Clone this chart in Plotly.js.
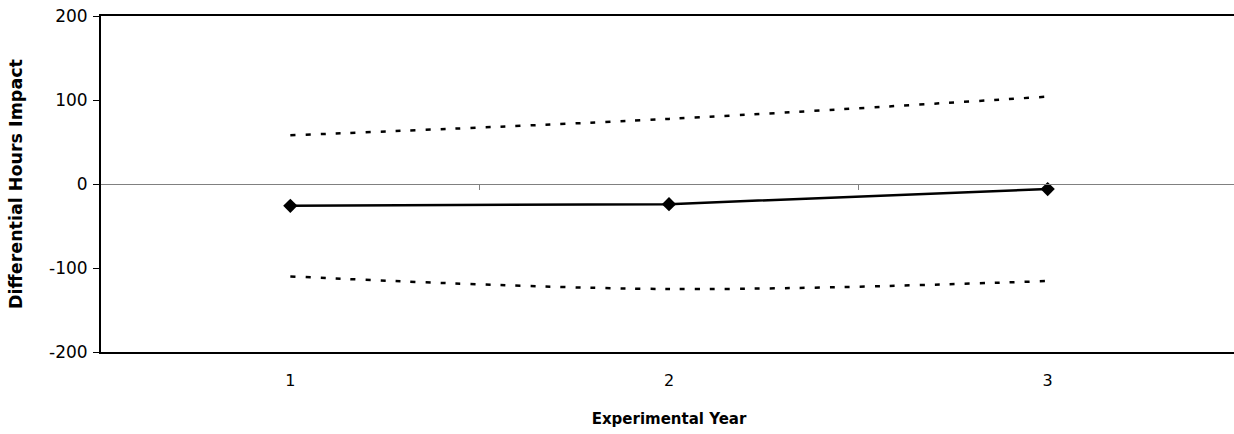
<!DOCTYPE html>
<html>
<head>
<meta charset="utf-8">
<script src="https://cdn.plot.ly/plotly-3.0.1.min.js"></script>
<style>
html, body { margin: 0; padding: 0; overflow: hidden; background: #fff; }
#chart { width: 1240px; height: 434px; }
</style>
</head>
<body>
<div id="chart"></div>
<script>
const years = [1, 2, 3];
const yearLabels = ["1", "2", "3"];
const impact = [-26, -24, -6];
const upperBound = [58, 77.5, 104];
const lowerBound = [-110, -125, -115.5];
const boundaryTicks = [1.5, 2.5];

const font = "DejaVu Sans, Verdana, sans-serif";

const traces = [
  {
    x: years, y: upperBound, mode: "lines", type: "scatter",
    line: { color: "#000", width: 2.5, dash: "5px,10px", shape: "spline" },
    hoverinfo: "skip", showlegend: false
  },
  {
    x: years, y: lowerBound, mode: "lines", type: "scatter",
    line: { color: "#000", width: 2.5, dash: "5px,10px", shape: "spline" },
    hoverinfo: "skip", showlegend: false
  },
  {
    x: years, y: impact, mode: "lines+markers", type: "scatter",
    line: { color: "#000", width: 2.5 },
    marker: { symbol: "diamond", size: 11, color: "#000" },
    showlegend: false
  },
  {
    x: years, y: [0, 0, 0], xaxis: "x2", yaxis: "y", mode: "none", type: "scatter",
    hoverinfo: "skip", showlegend: false
  }
];

const layout = {
  width: 1240, height: 434,
  margin: { l: 101, r: 3, t: 16, b: 82 },
  paper_bgcolor: "#fff", plot_bgcolor: "#fff",
  font: { family: font, color: "#000", size: 16 },
  xaxis: {
    range: [0.5, 3.5],
    tickvals: years, ticktext: yearLabels,
    showgrid: false, zeroline: false,
    showline: true, linecolor: "#000", linewidth: 2, mirror: true,
    ticks: "", ticklabelstandoff: 13,
    tickfont: { family: font, size: 16, color: "#000" },
    title: { text: "<b>Experimental Year</b>", font: { family: font, size: 15, color: "#000" }, standoff: 24 }
  },
  xaxis2: {
    range: [0.5, 3.5], overlaying: "x", anchor: "free", position: 0.5,
    tickvals: boundaryTicks, showticklabels: false,
    ticks: "outside", ticklen: 5, tickwidth: 1, tickcolor: "#808080",
    showline: true, linecolor: "#808080", linewidth: 1,
    showgrid: false, zeroline: false
  },
  yaxis: {
    range: [-200, 200],
    tickvals: [-200, -100, 0, 100, 200],
    ticktext: ["-200", "-100", "0", "100", "200"],
    showgrid: false, zeroline: false,
    showline: true, linecolor: "#000", linewidth: 2,
    ticks: "outside", ticklen: 6, tickwidth: 1, tickcolor: "#000",
    ticklabelstandoff: 2,
    tickfont: { family: font, size: 17, color: "#000" },
    title: { text: "<b>Differential Hours Impact</b>", font: { family: font, size: 17.5, color: "#000" }, standoff: 22 }
  }
};

Plotly.newPlot("chart", traces, layout, { displayModeBar: false, staticPlot: true });
</script>
</body>
</html>
